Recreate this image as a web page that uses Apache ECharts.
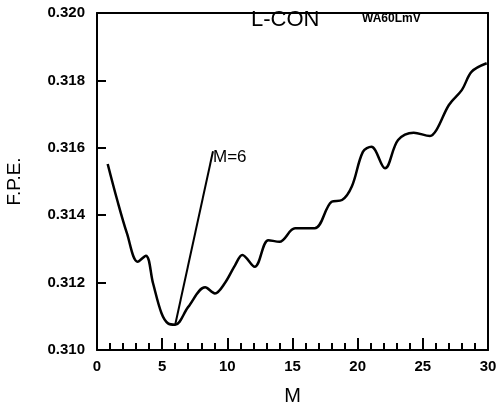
<!DOCTYPE html>
<html>
<head>
<meta charset="utf-8">
<script src="https://cdn.jsdelivr.net/npm/echarts@6/dist/echarts.min.js"></script>
<style>
  html, body { margin: 0; padding: 0; background: #fff; }
  #chart { width: 504px; height: 410px; }
</style>
</head>
<body>
<div id="chart"></div>
<script>
// F.P.E. vs model order M
var orders = [0.82, 1.55, 2.3, 3.12, 3.75, 4.3, 4.95, 5.45, 6.0, 7.0, 8.3, 9.05, 9.8, 10.6, 11.15, 12.1, 13.15, 14.0, 15.2, 16.7, 18.0, 18.8, 19.55, 20.4, 21.05, 22.1, 23.1, 24.3, 25.55, 26.05, 27.0, 28.0, 28.75, 29.9]
var fpe = [0.31552, 0.31445, 0.31346, 0.31262, 0.31280, 0.31198, 0.31109, 0.31079, 0.31075, 0.31128, 0.31186, 0.31168, 0.31198, 0.31252, 0.31282, 0.31247, 0.31326, 0.31321, 0.31361, 0.31361, 0.31440, 0.31445, 0.31485, 0.31588, 0.31603, 0.31539, 0.31623, 0.31645, 0.31635, 0.31653, 0.31727, 0.31772, 0.31826, 0.31851]
// pointer line from the minimum up to the "M=6" note
var pointerM = [6.0, 8.9]
var pointerV = [0.31075, 0.31590]
var xTicks = [0, 5, 10, 15, 20, 25, 30]
var yTicks = [0.310, 0.312, 0.314, 0.316, 0.318, 0.320]

var chart = echarts.init(document.getElementById('chart'))

var curve = orders.map(function (m, i) { return [m, fpe[i]] })
var pointer = pointerM.map(function (m, i) { return [m, pointerV[i]] })

var xMin = xTicks[0]
var xMax = xTicks[xTicks.length - 1]
var yMin = yTicks[0]
var yMax = yTicks[yTicks.length - 1]

// plain frame axis (top / right side of the box)
function frameAxis(pos, min, max) {
  return {
    type: 'value',
    position: pos,
    min: min,
    max: max,
    axisLine: { show: true, onZero: false, lineStyle: { color: '#000', width: 2 } },
    axisTick: { show: false },
    axisLabel: { show: false },
    splitLine: { show: false }
  }
}

chart.setOption({
  animation: false,
  textStyle: { fontFamily: 'Liberation Sans' },
  grid: {
    left: 97,
    right: 16,
    top: 13,
    bottom: 60,
    outerBoundsMode: 'none',
    containLabel: false,
    show: false
  },
  graphic: [
    {
      type: 'text',
      left: 251,
      top: 9,
      style: { text: 'L-CON', font: '22px "Liberation Sans"', fill: '#000' }
    },
    {
      type: 'text',
      left: 362,
      top: 13,
      style: { text: 'WA60LmV', font: 'bold 12px "Liberation Sans"', fill: '#000' }
    }
  ],
  xAxis: [
    {
      type: 'value',
      position: 'bottom',
      min: xMin,
      max: xMax,
      interval: 5,
      name: 'M',
      nameLocation: 'middle',
      nameGap: 36,
      nameTextStyle: { fontSize: 20, color: '#000' },
      axisLine: { show: true, onZero: false, lineStyle: { color: '#000', width: 2 } },
      axisTick: { show: true, inside: true, length: 12, lineStyle: { color: '#000', width: 2 } },
      splitLine: { show: false },
      axisLabel: { color: '#000', fontWeight: 'bold', fontSize: 15, margin: 9 }
    },
    {
      // minor ticks, one per unit
      type: 'value',
      position: 'bottom',
      min: xMin,
      max: xMax,
      interval: 1,
      axisLine: { show: false, onZero: false },
      axisTick: { show: true, inside: true, length: 7, lineStyle: { color: '#000', width: 2 } },
      axisLabel: { show: false },
      splitLine: { show: false }
    },
    frameAxis('top', xMin, xMax)
  ],
  yAxis: [
    {
      type: 'value',
      position: 'left',
      min: yMin,
      max: yMax,
      interval: 0.002,
      name: 'F.P.E.',
      nameLocation: 'middle',
      nameRotate: 90,
      nameGap: 73,
      nameTextStyle: { fontSize: 19, color: '#000' },
      axisLine: { show: true, onZero: false, lineStyle: { color: '#000', width: 2 } },
      axisTick: { show: true, inside: true, length: 9, lineStyle: { color: '#000', width: 2 } },
      splitLine: { show: false },
      axisLabel: {
        color: '#000',
        fontWeight: 'bold',
        fontSize: 15,
        margin: 12,
        formatter: function (v) { return v.toFixed(3) }
      }
    },
    frameAxis('right', yMin, yMax)
  ],
  series: [
    {
      type: 'line',
      data: curve,
      smooth: 0.35,
      showSymbol: false,
      lineStyle: { color: '#000', width: 2.5 }
    },
    {
      type: 'line',
      data: pointer,
      showSymbol: false,
      lineStyle: { color: '#000', width: 2 },
      endLabel: {
        show: true,
        formatter: 'M=6',
        color: '#000',
        fontSize: 17,
        offset: [-8, 6]
      }
    }
  ]
})
</script>
</body>
</html>
